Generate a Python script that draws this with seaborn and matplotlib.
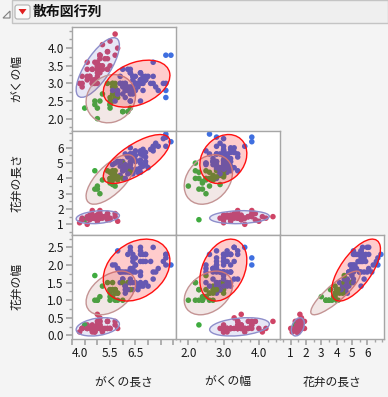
import numpy as np
import pandas as pd
import matplotlib
matplotlib.use("Agg")
import matplotlib.pyplot as plt
from matplotlib.patches import Ellipse, Rectangle, Polygon, FancyBboxPatch
import seaborn as sns

sepal_length = [5.1,4.9,4.7,4.6,5.0,5.4,4.6,5.0,4.4,4.9,5.4,4.8,4.8,4.3,5.8,5.7,5.4,5.1,5.7,5.1,5.4,5.1,4.6,5.1,4.8,5.0,5.0,5.2,5.2,4.7,4.8,5.4,5.2,5.5,4.9,5.0,5.5,4.9,4.4,5.1,5.0,4.5,4.4,5.0,5.1,4.8,5.1,4.6,5.3,5.0,
                7.0,6.4,6.9,5.5,6.5,5.7,6.3,4.9,6.6,5.2,5.0,5.9,6.0,6.1,5.6,6.7,5.6,5.8,6.2,5.6,5.9,6.1,6.3,6.1,6.4,6.6,6.8,6.7,6.0,5.7,5.5,5.5,5.8,6.0,5.4,6.0,6.7,6.3,5.6,5.5,5.5,6.1,5.8,5.0,5.6,5.7,5.7,6.2,5.1,5.7,
                6.3,5.8,7.1,6.3,6.5,7.6,4.9,7.3,6.7,7.2,6.5,6.4,6.8,5.7,5.8,6.4,6.5,7.7,7.7,6.0,6.9,5.6,7.7,6.3,6.7,7.2,6.2,6.1,6.4,7.2,7.4,7.9,6.4,6.3,6.1,7.7,6.3,6.4,6.0,6.9,6.7,6.9,5.8,6.8,6.7,6.7,6.3,6.5,6.2,5.9]
sepal_width = [3.5,3.0,3.2,3.1,3.6,3.9,3.4,3.4,2.9,3.1,3.7,3.4,3.0,3.0,4.0,4.4,3.9,3.5,3.8,3.8,3.4,3.7,3.6,3.3,3.4,3.0,3.4,3.5,3.4,3.2,3.1,3.4,4.1,4.2,3.1,3.2,3.5,3.6,3.0,3.4,3.5,2.3,3.2,3.5,3.8,3.0,3.8,3.2,3.7,3.3,
               3.2,3.2,3.1,2.3,2.8,2.8,3.3,2.4,2.9,2.7,2.0,3.0,2.2,2.9,2.9,3.1,3.0,2.7,2.2,2.5,3.2,2.8,2.5,2.8,2.9,3.0,2.8,3.0,2.9,2.6,2.4,2.4,2.7,2.7,3.0,3.4,3.1,2.3,3.0,2.5,2.6,3.0,2.6,2.3,2.7,3.0,2.9,2.9,2.5,2.8,
               3.3,2.7,3.0,2.9,3.0,3.0,2.5,2.9,2.5,3.6,3.2,2.7,3.0,2.5,2.8,3.2,3.0,3.8,2.6,2.2,3.2,2.8,2.8,2.7,3.3,3.2,2.8,3.0,2.8,3.0,2.8,3.8,2.8,2.8,2.6,3.0,3.4,3.1,3.0,3.1,3.1,3.1,2.7,3.2,3.3,3.0,2.5,3.0,3.4,3.0]
petal_length = [1.4,1.4,1.3,1.5,1.4,1.7,1.4,1.5,1.4,1.5,1.5,1.6,1.4,1.1,1.2,1.5,1.3,1.4,1.7,1.5,1.7,1.5,1.0,1.7,1.9,1.6,1.6,1.5,1.4,1.6,1.6,1.5,1.5,1.4,1.5,1.2,1.3,1.4,1.3,1.5,1.3,1.3,1.3,1.6,1.9,1.4,1.6,1.4,1.5,1.4,
                4.7,4.5,4.9,4.0,4.6,4.5,4.7,3.3,4.6,3.9,3.5,4.2,4.0,4.7,3.6,4.4,4.5,4.1,4.5,3.9,4.8,4.0,4.9,4.7,4.3,4.4,4.8,5.0,4.5,3.5,3.8,3.7,3.9,5.1,4.5,4.5,4.7,4.4,4.1,4.0,4.4,4.6,4.0,3.3,4.2,4.2,4.2,4.3,3.0,4.1,
                6.0,5.1,5.9,5.6,5.8,6.6,4.5,6.3,5.8,6.1,5.1,5.3,5.5,5.0,5.1,5.3,5.5,6.7,6.9,5.0,5.7,4.9,6.7,4.9,5.7,6.0,4.8,4.9,5.6,5.8,6.1,6.4,5.6,5.1,5.6,6.1,5.6,5.5,4.8,5.4,5.6,5.1,5.1,5.9,5.7,5.2,5.0,5.2,5.4,5.1]
petal_width = [0.2,0.2,0.2,0.2,0.2,0.4,0.3,0.2,0.2,0.1,0.2,0.2,0.1,0.1,0.2,0.4,0.4,0.3,0.3,0.3,0.2,0.4,0.2,0.5,0.2,0.2,0.4,0.2,0.2,0.2,0.2,0.4,0.1,0.2,0.2,0.2,0.2,0.1,0.2,0.2,0.3,0.3,0.2,0.6,0.4,0.3,0.2,0.2,0.2,0.2,
               1.4,1.5,1.5,1.3,1.5,1.3,1.6,1.0,1.3,1.4,1.0,1.5,1.0,1.4,1.3,1.4,1.5,1.0,1.5,1.1,1.8,1.3,1.5,1.2,1.3,1.4,1.4,1.7,1.5,1.0,1.1,1.0,1.2,1.6,1.5,1.6,1.5,1.3,1.3,1.3,1.2,1.4,1.2,1.0,1.3,1.2,1.3,1.3,1.1,1.3,
               2.5,1.9,2.1,1.8,2.2,2.1,1.7,1.8,1.8,2.5,2.0,1.9,2.1,2.0,2.4,2.3,1.8,2.2,2.3,1.5,2.3,2.0,2.0,1.8,2.1,1.8,1.8,1.8,2.1,1.6,1.9,2.0,2.2,1.5,1.4,2.3,2.4,1.8,1.8,2.1,2.4,2.3,1.9,2.3,2.5,2.3,1.9,2.0,2.3,1.8]
# point colour group of each row (0 = red, 1 = green, 2 = blue)
group = [0,0,0,0,0,0,0,0,0,0,0,0,0,0,0,0,0,0,0,0,0,0,0,0,0,0,0,0,0,0,0,0,0,0,0,0,0,0,0,0,0,1,0,0,0,0,0,0,0,0,
         2,2,2,1,2,1,2,1,2,1,1,2,1,2,1,2,1,1,1,1,2,2,2,2,2,2,2,2,2,1,1,1,1,2,1,2,2,1,1,1,1,2,1,1,1,1,1,2,1,1,
         2,2,2,2,2,2,1,2,2,2,2,2,2,2,2,2,2,2,2,1,2,2,2,2,2,2,2,2,2,2,2,2,2,2,2,2,2,2,2,2,2,2,2,2,2,2,2,2,2,2]

var_names = ["がくの長さ", "がくの幅", "花弁の長さ", "花弁の幅"]
title = "散布図行列"

df = pd.DataFrame({var_names[0]: sepal_length, var_names[1]: sepal_width,
                   var_names[2]: petal_length, var_names[3]: petal_width, "群": group})

sns.set_theme(style="white")
plt.rcParams["font.family"] = ["Noto Sans CJK JP", "DejaVu Sans"]

W, H = 388, 397
fig = plt.figure(figsize=(W / 100, H / 100), dpi=100)
fig.patch.set_facecolor("#f4f4f4")


def fx(x):
    return x / W


def fy(y):
    return 1 - y / H


pt_colors = {0: "#cf4466", 1: "#3fab3f", 2: "#3f6fe0"}
ell_face = {0: (0.42, 0.42, 0.78, 0.16), 1: (0.65, 0.35, 0.32, 0.14), 2: (1.0, 0.0, 0.0, 0.2)}
ell_edge = {0: "#8e8ecb", 1: "#c49494", 2: "#ff1010"}
lims = {0: (4.0, 8.1), 1: (1.65, 4.6), 2: (0.3, 7.1), 3: (-0.1, 2.85)}
major = {1: [2.0, 2.5, 3.0, 3.5, 4.0], 2: [1, 2, 3, 4, 5, 6], 3: [0.0, 0.5, 1.0, 1.5, 2.0, 2.5]}
xlabels = {0: {4.0: "4.0", 5.5: "5.5", 6.5: "6.5"}, 1: {2.0: "2.0", 3.0: "3.0", 4.0: "4.0"},
           2: {float(v): str(v) for v in range(1, 7)}}
xmajor = {0: np.arange(4.0, 8.01, 0.5), 1: [2.0, 3.0, 4.0], 2: [1, 2, 3, 4, 5, 6]}
xminor = {0: [], 1: np.arange(1.75, 4.6, 0.25), 2: np.arange(0.5, 7.1, 0.5)}
yminor = {1: np.arange(1.75, 4.6, 0.25), 2: np.arange(0.5, 7.1, 0.5), 3: np.arange(0.0, 2.8, 0.25)}

chi = np.sqrt(5.991)  # 95% density ellipse
x0, y0, cs = 72, 27, 104
for r in range(3):
    yv = r + 1
    for c in range(r + 1):
        xv = c
        ax = fig.add_axes([fx(x0 + cs * c), fy(y0 + cs * (r + 1)), cs / W, cs / H])
        ax.set_facecolor("white")
        sns.scatterplot(data=df, x=var_names[xv], y=var_names[yv], hue="群", palette=pt_colors,
                        s=16, linewidth=0, alpha=1, legend=False, ax=ax, zorder=2)
        for g in range(3):
            sub = df[df["群"] == g]
            xs = sub[var_names[xv]].to_numpy()
            ys = sub[var_names[yv]].to_numpy()
            cov = np.cov(xs, ys)
            vals, vecs = np.linalg.eigh(cov)
            order = vals.argsort()[::-1]
            vals, vecs = vals[order], vecs[:, order]
            ang = np.degrees(np.arctan2(vecs[1, 0], vecs[0, 0]))
            e = Ellipse((xs.mean(), ys.mean()), 2 * chi * np.sqrt(vals[0]), 2 * chi * np.sqrt(vals[1]),
                        angle=ang, facecolor=ell_face[g], edgecolor=ell_edge[g], linewidth=1.0, zorder=3)
            ax.add_patch(e)
        ax.set_xlim(lims[xv])
        ax.set_ylim(lims[yv])
        ax.set_xlabel("")
        ax.set_ylabel("")
        for s in ax.spines.values():
            s.set_color("#a6a6a6")
            s.set_linewidth(1.0)
        if r == 2:
            ax.set_xticks(xmajor[xv])
            ax.set_xticks(xminor[xv], minor=True)
            labs = [xlabels[xv].get(round(float(v), 2), "") for v in xmajor[xv]]
            ax.set_xticklabels(labs)
            ax.tick_params(axis="x", which="both", bottom=True, direction="out", color="#a6a6a6",
                           labelsize=8.5, labelcolor="#1a1a1a", pad=2)
            ax.tick_params(axis="x", which="major", length=4)
            ax.tick_params(axis="x", which="minor", length=2.5)
            if xv == 0:
                ax.get_xticklabels()[0].set_ha("left")
        else:
            ax.set_xticks([])
        if c == 0:
            ax.set_yticks(major[yv])
            ax.set_yticks(yminor[yv], minor=True)
            if yv == 2:
                ax.set_yticklabels([str(v) for v in major[yv]])
            else:
                ax.set_yticklabels(["%.1f" % v for v in major[yv]])
            ax.tick_params(axis="y", which="both", left=True, direction="out", color="#a6a6a6",
                           labelsize=8.5, labelcolor="#1a1a1a", pad=2)
            ax.tick_params(axis="y", which="major", length=4)
            ax.tick_params(axis="y", which="minor", length=2.5)
            fig.text(fx(17), fy(y0 + cs * r + cs / 2), var_names[yv], rotation=90,
                     ha="center", va="center", fontsize=8.5, color="#1a1a1a")
        else:
            ax.set_yticks([])

for c in range(3):
    fig.text(fx(x0 + cs * c + cs / 2), fy(382), var_names[c], ha="center", va="center",
             fontsize=8.5, color="#1a1a1a")

# title bar
fig.add_artist(Rectangle((fx(12), fy(23)), 1 - fx(12), 23 / H, transform=fig.transFigure,
                         facecolor="#efefef", edgecolor="#c4c4c4", linewidth=1))
fig.add_artist(Polygon([(fx(3), fy(18)), (fx(10), fy(18)), (fx(10), fy(11))], closed=True,
                       transform=fig.transFigure, facecolor="none", edgecolor="#808080", linewidth=0.8))
fig.add_artist(FancyBboxPatch((fx(15), fy(19)), 15 / W, 14 / H, boxstyle="round,pad=0,rounding_size=0.006",
                              transform=fig.transFigure, facecolor="#fbfbfb", edgecolor="#b0b0b0", linewidth=0.8))
fig.add_artist(Polygon([(fx(18.5), fy(9)), (fx(26.5), fy(9)), (fx(22.5), fy(14.5))], closed=True,
                       transform=fig.transFigure, facecolor="#e02020", edgecolor="none"))
fig.text(fx(33), fy(11.5), title, ha="left", va="center", fontsize=10, fontweight="bold", color="#111111")

fig.savefig("out.png", dpi=100, facecolor=fig.get_facecolor())
